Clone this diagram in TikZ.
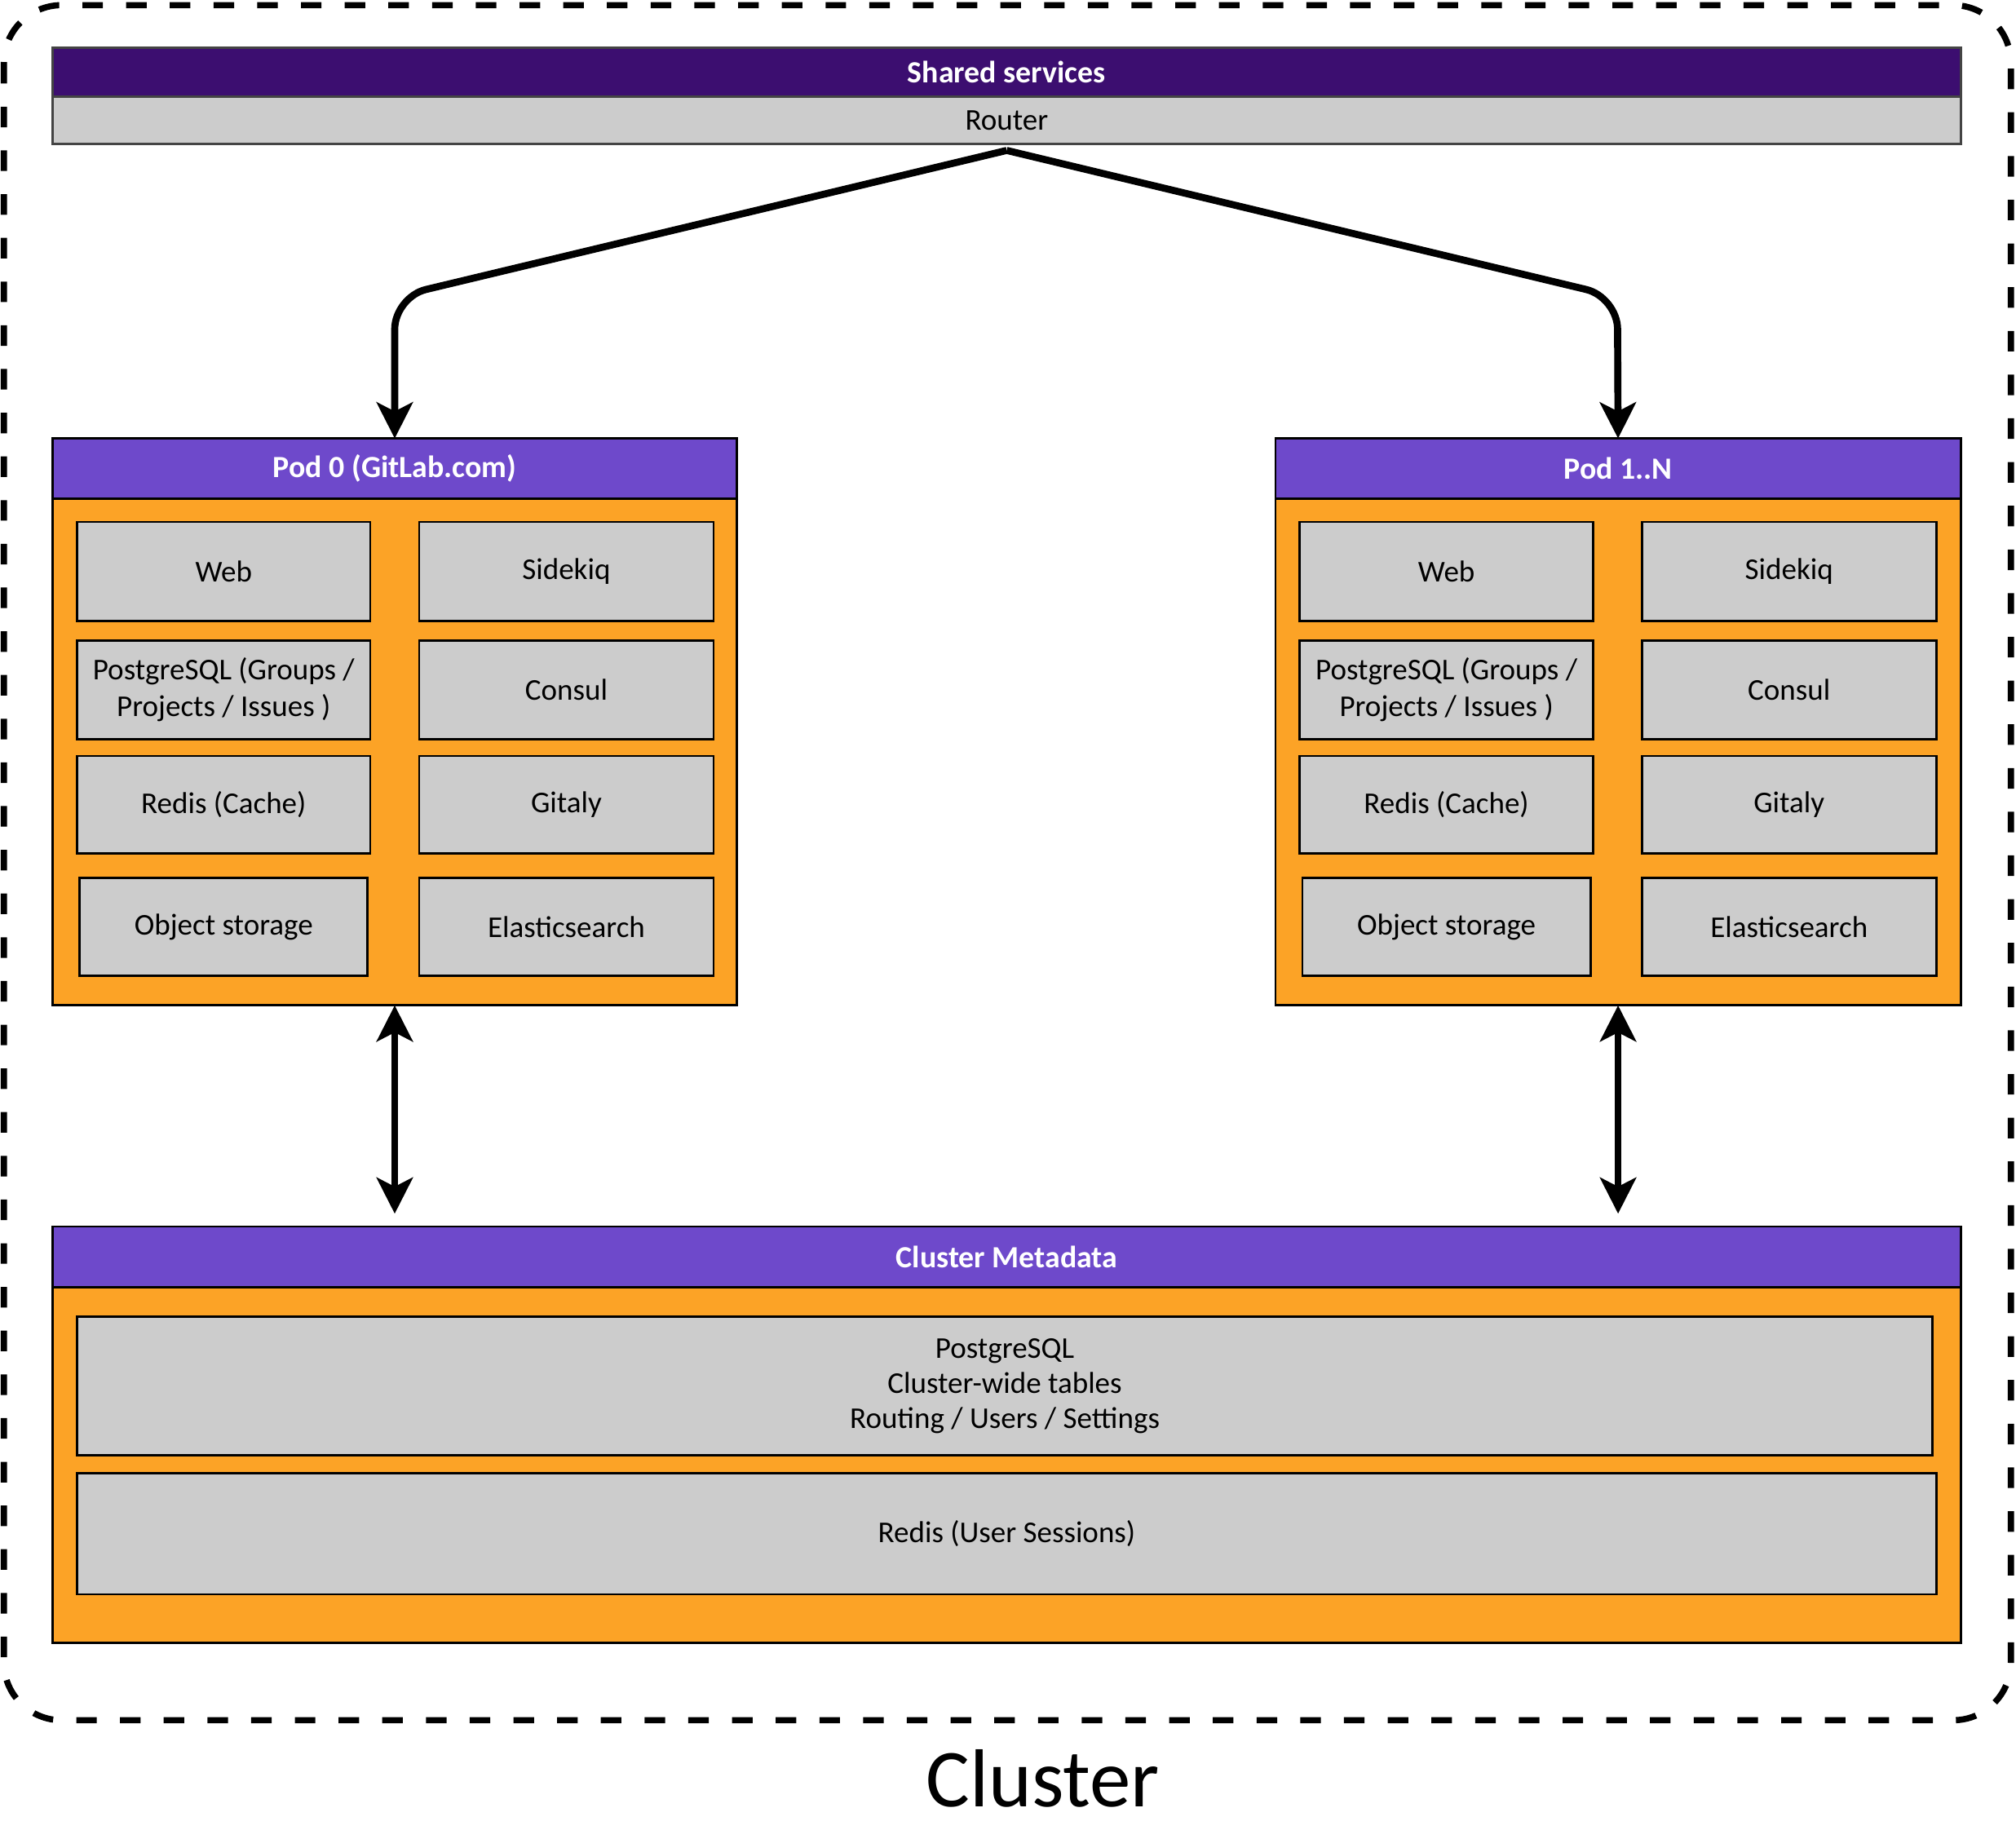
\documentclass[tikz,border=0pt]{standalone}
\usepackage{fontspec}
\setmainfont{Carlito}
\usetikzlibrary{arrows.meta,calc}
\definecolor{dpurple}{RGB}{60,14,112}
\definecolor{lpurple}{RGB}{110,73,203}
\definecolor{gorange}{RGB}{252,163,38}
\definecolor{lgray}{RGB}{204,204,204}
\definecolor{dgray}{RGB}{68,68,68}
\newcommand\Bx[7]{\node[#2,minimum width={(#5)-(#3)},minimum height={(#6)-(#4)}] (#1) at ({((#3)+(#5))/2},{((#4)+(#6))/2}) {#7};}
\newcommand\PodItems[2]{%
  \Bx{#1web}{item}{60+#2}{406}{288+#2}{483}{Web}
  \Bx{#1sk}{item}{326+#2}{406}{555+#2}{483}{Sidekiq}
  \Bx{#1pg}{item}{60+#2}{498}{288+#2}{575}{PostgreSQL (Groups /\\Projects / Issues )}
  \Bx{#1consul}{item}{326+#2}{498}{555+#2}{575}{Consul}
  \Bx{#1redis}{item}{60+#2}{588}{288+#2}{664}{Redis (Cache)}
  \Bx{#1gitaly}{item}{326+#2}{588}{555+#2}{664}{Gitaly}
  \Bx{#1obj}{item}{62+#2}{683}{286+#2}{759}{Object storage}
  \Bx{#1es}{item}{326+#2}{683}{555+#2}{759}{Elasticsearch}
}
\begin{document}
\begin{tikzpicture}[x=1pt,y=-1pt,
  base/.style={rectangle,inner sep=0pt,outer sep=0pt,line width=1.8pt,draw=black},
  hdr/.style={base,fill=lpurple,text=white,font=\bfseries\fontsize{24}{29}\selectfont},
  body/.style={base,fill=gorange},
  item/.style={base,fill=lgray,align=center,font=\fontsize{23.5}{28.5}\selectfont},
  conn/.style={line width=5.5pt,-{Stealth[length=28pt,width=28pt,inset=7pt]}},
  bidir/.style={line width=5.5pt,{Stealth[length=28pt,width=28pt,inset=7pt]}-{Stealth[length=28pt,width=28pt,inset=7pt]}},
  frame/.style={line width=4.8pt,dash pattern=on 16pt off 18pt,rounded corners=45pt},
]
\useasboundingbox (0,0) rectangle (1568,1423);
\fill[white] (0,0) rectangle (1568,1423);
% outer cluster frame
\draw[frame] (3,4) rectangle (1564,1338);
\node[anchor=base,font=\fontsize{64}{70}\selectfont] (clusterlbl) at (811,1405) {Cluster};

% shared services
\Bx{shared}{base,draw=dgray,fill=dpurple,text=white,font=\bfseries\fontsize{24}{29}\selectfont}{41}{37}{1525}{75}{Shared services}
\Bx{router}{base,draw=dgray,fill=lgray,font=\fontsize{23.5}{28.5}\selectfont}{41}{75}{1525}{112}{Router}

% pod 0
\Bx{pod0}{body}{41}{341}{573}{782}{}
\Bx{pod0h}{hdr}{41}{341}{573}{388}{Pod 0 (GitLab.com)}
\PodItems{a}{0}

% pod 1..N
\Bx{pod1}{body}{992}{341}{1525}{782}{}
\Bx{pod1h}{hdr}{992}{341}{1525}{388}{Pod 1..N}
\PodItems{b}{951}

% cluster metadata
\Bx{meta}{body}{41}{954}{1525}{1278}{}
\Bx{metah}{hdr}{41}{954}{1525}{1001}{Cluster Metadata}
\Bx{metapg}{item,font=\fontsize{23.5}{27.5}\selectfont}{60}{1024}{1503}{1132}{PostgreSQL\\Cluster-wide tables\\Routing / Users / Settings}
\Bx{metaredis}{item}{60}{1146}{1506}{1240}{Redis (User Sessions)}

% connectors
\coordinate (rstart) at ([yshift=-5pt]router.south);
\coordinate (bendL) at (307,231);
\coordinate (bendR) at (1258,231);
\draw[conn,rounded corners=25pt] (rstart) -- (bendL) -- (pod0.north);
\draw[conn,rounded corners=25pt] (rstart) -- (bendR) -- (pod1.north);
\coordinate (mtip) at (0,944);
\draw[bidir] (pod0.south) -- (pod0.south |- mtip);
\draw[bidir] (pod1.south) -- (pod1.south |- mtip);
\end{tikzpicture}
\end{document}
